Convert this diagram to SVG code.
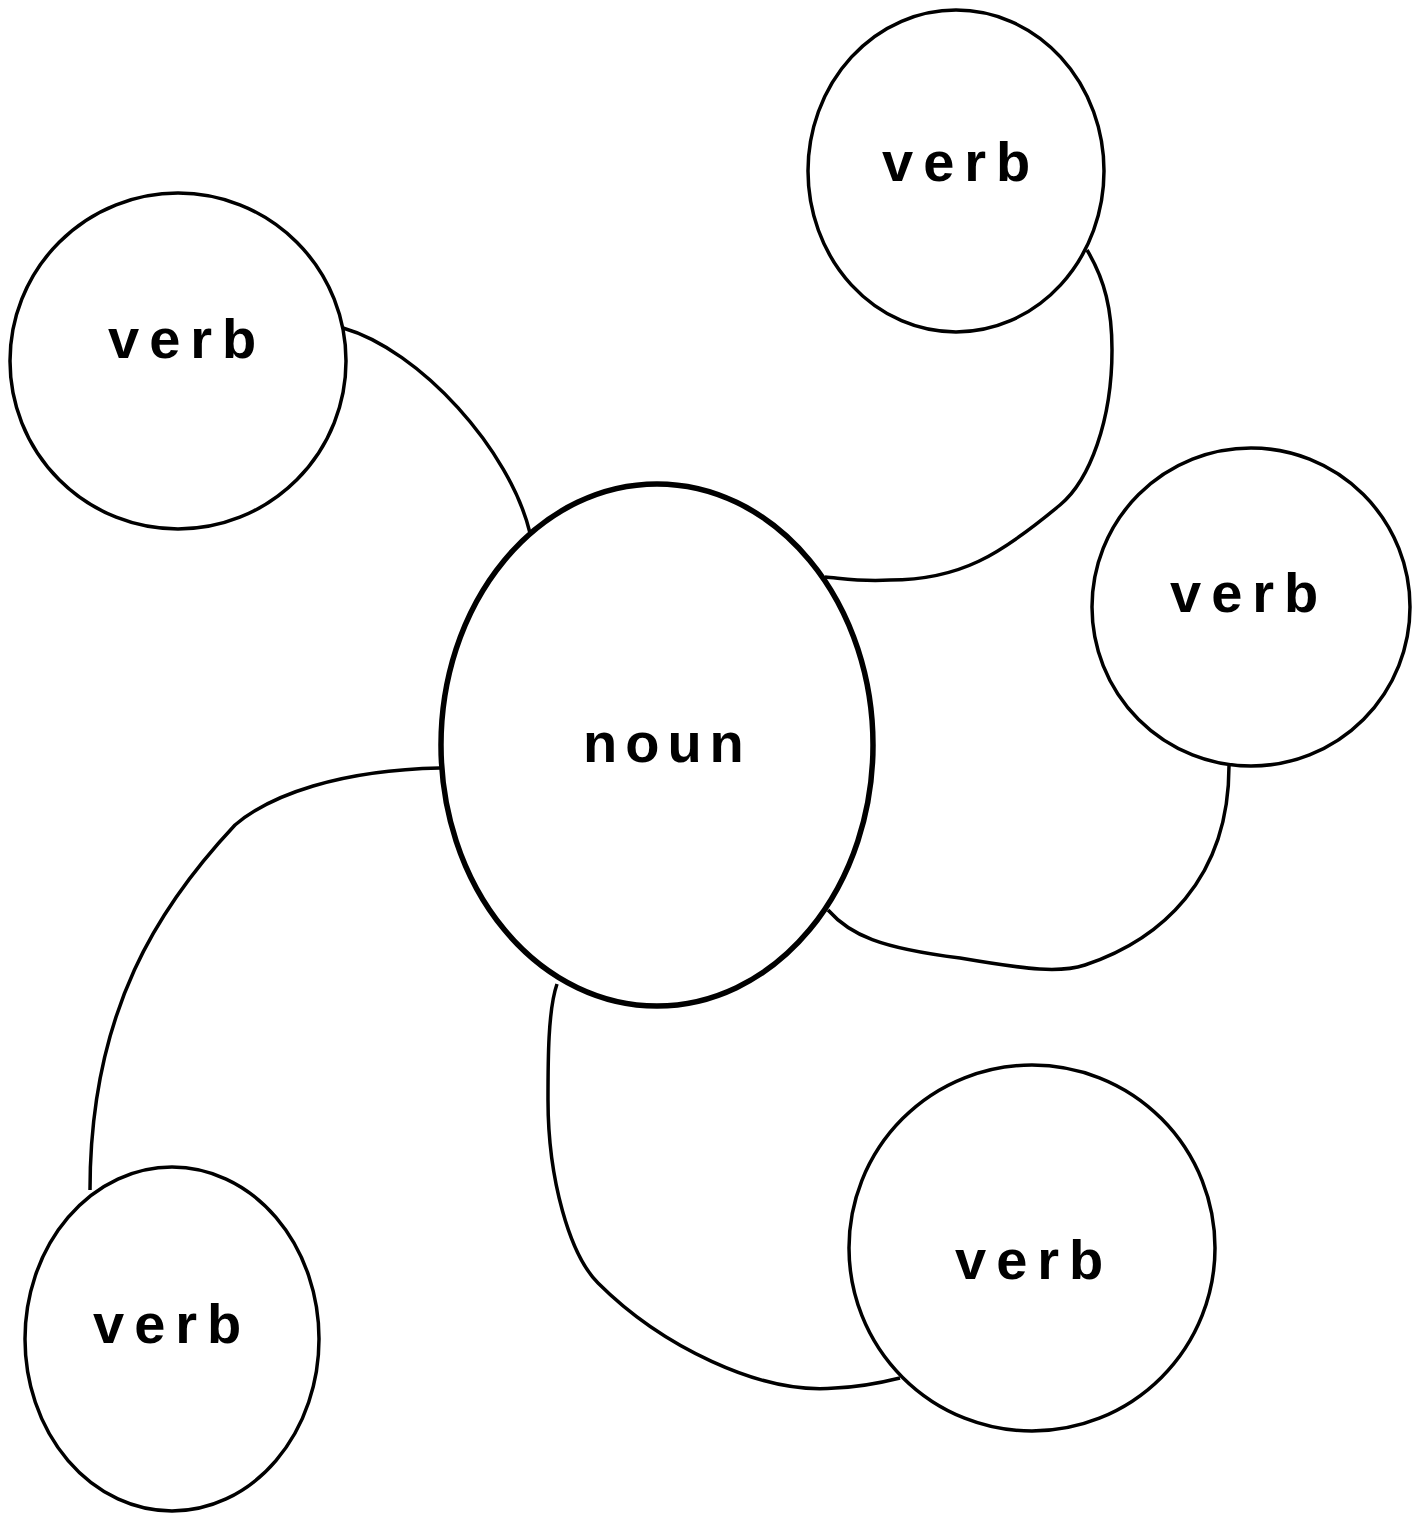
<svg xmlns="http://www.w3.org/2000/svg" width="1421" height="1513" viewBox="0 0 1421 1513">
<style>
.node{fill:#fff;stroke:#000;stroke-width:3.5}
.main{fill:#fff;stroke:#000;stroke-width:5.5}
.lbl{font-family:"Liberation Sans",Arial,sans-serif;font-weight:bold;font-size:56px;letter-spacing:10px;fill:#000}
.edge{fill:none;stroke:#000;stroke-width:3.5}
</style>
<rect width="1421" height="1513" fill="#fff"/>
<g id="connectors">
<path class="edge" d="M343,328 C420,350 510,450 530,533"/>
<path class="edge" d="M1087,250 C1105,280 1112,310 1112,350 C1112,420 1090,480 1060,505 C1000,555 960,580 890,580 C860,582 840,578 825,577"/>
<path class="edge" d="M1229,766 C1229,880 1160,940 1085,965 C1060,973 1030,970 960,958 C880,948 850,935 828,910"/>
<path class="edge" d="M440,768 C340,770 270,795 235,825 C160,905 90,1010 90,1190"/>
<path class="edge" d="M557,984 C548,1010 548,1060 548,1100 C548,1180 570,1255 598,1283 C660,1345 760,1395 835,1388 C860,1387 880,1383 900,1378"/>
</g>
<g id="noun"><ellipse class="main" cx="657" cy="745" rx="216" ry="261"/><text class="lbl" x="583" y="762" style="letter-spacing:8px">noun</text></g>
<g id="verb-top-right"><ellipse class="node" cx="956" cy="171" rx="148" ry="161"/><text class="lbl" x="882" y="181">verb</text></g>
<g id="verb-left"><ellipse class="node" cx="178" cy="361" rx="168" ry="168"/><text class="lbl" x="108" y="358">verb</text></g>
<g id="verb-right"><ellipse class="node" cx="1251" cy="607" rx="159" ry="159"/><text class="lbl" x="1170" y="612">verb</text></g>
<g id="verb-bottom-left"><ellipse class="node" cx="172" cy="1339" rx="147" ry="172"/><text class="lbl" x="93" y="1343">verb</text></g>
<g id="verb-bottom-right"><ellipse class="node" cx="1032" cy="1248" rx="183" ry="183"/><text class="lbl" x="955" y="1279">verb</text></g>
</svg>
